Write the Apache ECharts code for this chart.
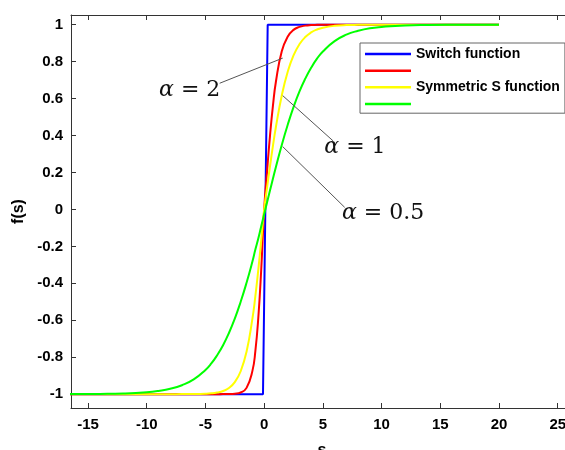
<!DOCTYPE html>
<html>
<head>
<meta charset="utf-8">
<script src="https://cdn.jsdelivr.net/npm/echarts@6/dist/echarts.min.js"></script>
<style>
  html, body { margin: 0; padding: 0; background: #fff; overflow: hidden; }
  #chart { width: 565px; height: 450px; }
</style>
</head>
<body>
<div id="chart"></div>
<script>
// Sample positions s shared by the three smooth curves
const sValues = [-20, -16, -14, -12, -10, -9, -8, -7, -6, -5, -4.5, -4, -3.5, -3, -2.5, -2, -1.5, -1, -0.75, -0.5, -0.25,
  0, 0.25, 0.5, 0.75, 1, 1.5, 2, 2.5, 3, 3.5, 4, 4.5, 5, 6, 7, 8, 9, 10, 12, 14, 16, 20];

// alpha = 2
const fAlpha2 = [-1, -1, -1, -1, -1, -1, -1, -1, -1, -1, -1, -1, -0.9998, -0.9994, -0.9977, -0.991, -0.966, -0.874, -0.767, -0.588, -0.325,
  0, 0.209, 0.401, 0.563, 0.691, 0.856, 0.935, 0.972, 0.988, 0.995, 0.998, 0.9991, 0.9996, 0.9999, 1, 1, 1, 1, 1, 1, 1, 1];

// alpha = 1 (symmetric S function)
const fAlpha1 = [-1, -1, -1, -1, -1, -1, -1, -0.9998, -0.9994, -0.9978, -0.9956, -0.991, -0.983, -0.967, -0.935, -0.876, -0.77, -0.591, -0.47, -0.327, -0.168,
  0, 0.119, 0.235, 0.345, 0.446, 0.617, 0.744, 0.834, 0.894, 0.933, 0.958, 0.974, 0.984, 0.994, 0.998, 0.9991, 0.9996, 0.9999, 1, 1, 1, 1];

// alpha = 0.5
const fAlpha05 = [-0.9999, -0.9995, -0.9987, -0.9963, -0.9896, -0.9826, -0.9712, -0.9516, -0.9203, -0.869, -0.834, -0.789, -0.735, -0.669, -0.591, -0.5, -0.397, -0.282, -0.2175, -0.158, -0.091,
  -0.026, 0.039, 0.104, 0.167, 0.23, 0.349, 0.457, 0.554, 0.638, 0.708, 0.767, 0.816, 0.855, 0.911, 0.946, 0.967, 0.981, 0.988, 0.996, 0.9986, 0.9995, 0.9999];

// Switch function (step)
const sSwitch = [-20, -0.1, 0.3, 20];
const fSwitch = [-1, -1, 1, 1];

const seriesNames = ['Switch function', 'α = 2', 'Symmetric S function', 'α = 0.5'];
const legendLabels = { 'Switch function': 'Switch function', 'α = 2': '', 'Symmetric S function': 'Symmetric S function', 'α = 0.5': '' };

// Curve annotations (data coordinates)
const noteText = ['2', '1', '0.5'];
const noteAnchor = [[-8.95, 0.646], [5.12, 0.339], [6.62, -0.02]];
const leaderFrom = [[1.58, 0.819], [1.58, 0.616], [1.58, 0.34]];
const leaderTo = [[-3.79, 0.683], [5.87, 0.371], [6.86, 0.011]];

const zip = (xs, ys) => xs.map((x, i) => [x, ys[i]]);

const axisColor = '#333';
const sansFamily = 'Liberation Sans, Arial, sans-serif';
const labelFont = { color: '#000', fontWeight: 'bold', fontSize: 15, fontFamily: sansFamily };

function tickFormatter(step) {
  return function (v) {
    const k = v / step;
    if (Math.abs(k - Math.round(k)) > 1e-6) return '';
    return String(parseFloat(v.toFixed(2)));
  };
}

// The plot box runs past the right edge of the canvas; the visible part spans these limits
const xRange = { min: -16.45, max: 25.62 };
const yRange = { min: -1.075, max: 1.0525 };

function xAxisDef(pos, showLabel) {
  return {
    type: 'value', position: pos, min: xRange.min, max: xRange.max,
    minInterval: 5, maxInterval: 5, splitNumber: 9,
    axisLine: { show: true, onZero: false, lineStyle: { color: axisColor, width: 1 } },
    axisTick: { show: true, inside: true, length: 5, lineStyle: { color: axisColor, width: 1 } },
    splitLine: { show: false },
    axisLabel: Object.assign({ show: showLabel, margin: 9, formatter: tickFormatter(5), hideOverlap: false }, labelFont),
    name: showLabel ? 's' : '', nameLocation: 'middle', nameGap: 35,
    nameTextStyle: { color: '#000', fontWeight: 'bold', fontSize: 16, fontFamily: sansFamily, padding: [0, 0, 0, 8] }
  };
}

const yAxisDef = {
  type: 'value', position: 'left', min: yRange.min, max: yRange.max,
  minInterval: 0.2, maxInterval: 0.2, splitNumber: 10,
  axisLine: { show: true, onZero: false, lineStyle: { color: axisColor, width: 1 } },
  axisTick: { show: true, inside: true, length: 5, lineStyle: { color: axisColor, width: 1 } },
  splitLine: { show: false },
  axisLabel: Object.assign({ margin: 8, formatter: tickFormatter(0.2) }, labelFont),
  name: 'f(s)', nameLocation: 'middle', nameGap: 32, nameRotate: 90,
  nameTextStyle: { color: '#000', fontWeight: 'bold', fontSize: 16, fontFamily: sansFamily }
};

function curve(name, color, data, smooth) {
  return {
    type: 'line', name: name, data: data, xAxisIndex: 0, yAxisIndex: 0,
    showSymbol: false, symbol: 'none', smooth: smooth, clip: true,
    lineStyle: { color: color, width: 2 }, itemStyle: { color: color },
    emphasis: { disabled: true }
  };
}

const chart = echarts.init(document.getElementById('chart'), null, { renderer: 'canvas' });

chart.setOption({
  animation: false,
  backgroundColor: '#fff',
  grid: { left: 71, top: 15, right: 0, bottom: 42, containLabel: false, outerBoundsMode: 'none' },
  xAxis: [xAxisDef('bottom', true), xAxisDef('top', false)],
  yAxis: [yAxisDef],
  legend: {
    orient: 'vertical', left: 360, top: 43, z: 20,
    data: seriesNames, selectedMode: false,
    icon: 'rect', itemWidth: 46, itemHeight: 2.5, itemGap: 8.4,
    padding: [4, 5, 8, 5],
    borderColor: '#666', borderWidth: 1, borderRadius: 0, backgroundColor: '#fff',
    formatter: name => legendLabels[name],
    textStyle: { color: '#000', fontWeight: 'bold', fontSize: 14, fontFamily: sansFamily }
  },
  series: [
    curve(seriesNames[0], '#0000ff', zip(sSwitch, fSwitch), false),
    curve(seriesNames[1], '#ff0000', zip(sValues, fAlpha2), true),
    curve(seriesNames[2], '#ffff00', zip(sValues, fAlpha1), true),
    curve(seriesNames[3], '#00ff00', zip(sValues, fAlpha05), true)
  ]
});

// Leader lines and alpha labels, positioned through the grid's coordinate system
const toPx = p => chart.convertToPixel({ gridIndex: 0 }, p);
const graphics = [];
noteText.forEach((t, i) => {
  const a = toPx(leaderFrom[i]);
  const b = toPx(leaderTo[i]);
  graphics.push({
    type: 'line', silent: true, z: 10,
    shape: { x1: a[0], y1: a[1], x2: b[0], y2: b[1] },
    style: { stroke: '#555', lineWidth: 1 }
  });
  const p = toPx(noteAnchor[i]);
  graphics.push({
    type: 'text', silent: true, z: 10, x: p[0], y: p[1],
    style: {
      text: '{a|α} = ' + t,
      fill: '#111', fontSize: 22, fontFamily: 'DejaVu Serif, serif',
      align: 'left', verticalAlign: 'middle',
      rich: { a: { fontStyle: 'italic', fontSize: 22, fontFamily: 'DejaVu Serif, serif', fill: '#111' } }
    }
  });
});
chart.setOption({ graphic: graphics });
</script>
</body>
</html>
